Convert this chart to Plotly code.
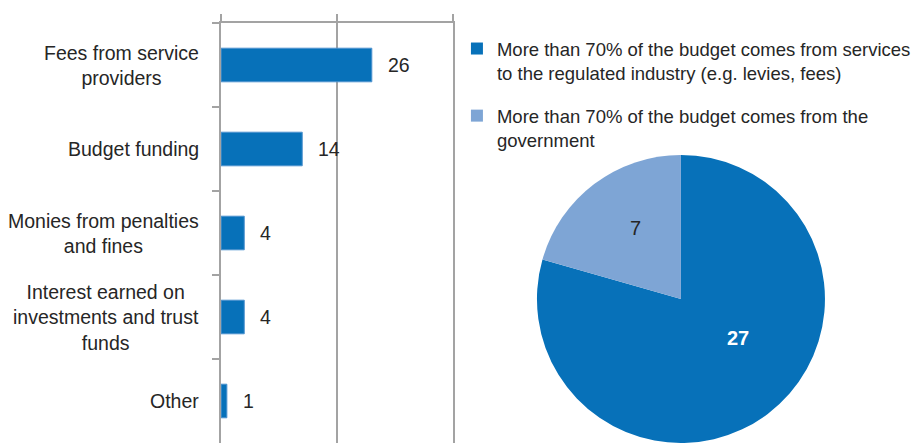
import math
import plotly.graph_objects as go

# Revenue sources (number of regulators)
categories = [
    "Fees from service<br>providers",
    "Budget funding",
    "Monies from penalties<br>and fines",
    "Interest earned on<br>investments and trust<br>funds",
    "Other",
]
bar_values = [26, 14, 4, 4, 1]

# Budget composition split
pie_labels = [
    "More than 70% of the budget comes from services<br>to the regulated industry (e.g. levies, fees)",
    "More than 70% of the budget comes from the<br>government",
]
pie_values = [27, 7]

DARK = "#0771B9"
LIGHT = "#7EA5D5"
TEXT = "#262626"
AXIS = "#A3A3A3"
FONT = "Liberation Sans, Arial, sans-serif"

W, H = 916, 443

# pie geometry (pixels)
PIE_CX = 690
PIE_R = 144
pie_dom_x = [(PIE_CX - 150) / W, (PIE_CX + 150) / W]
pie_dom_y = [0, 2 * PIE_R / H]
PIE_CY_PAPER = PIE_R / H

# value labels inside slices: (angle clockwise from 12 o'clock, radius fraction)
slice_label_pos = [(124, 0.48), (-33, 0.59)]
slice_label_style = [dict(color="white", bold=True), dict(color=TEXT, bold=False)]

fig = go.Figure()

fig.add_trace(go.Bar(
    y=categories,
    x=bar_values,
    orientation="h",
    width=0.4,
    marker=dict(color=DARK, line=dict(color="#4F93CF", width=1)),
    showlegend=False,
    hoverinfo="skip",
))

fig.add_trace(go.Pie(
    labels=pie_labels,
    values=pie_values,
    textinfo="none",
    marker=dict(colors=[DARK, LIGHT], line=dict(width=0)),
    sort=False,
    direction="clockwise",
    rotation=0,
    domain=dict(x=pie_dom_x, y=pie_dom_y),
    showlegend=False,
    hoverinfo="skip",
))

# legend entries for the pie slices, one group each so they can be spaced apart
for i, (lab, col) in enumerate(zip(pie_labels, [DARK, LIGHT])):
    fig.add_trace(go.Scatter(
        x=[None], y=[None],
        mode="markers",
        marker=dict(symbol="square", size=12, color=col, line=dict(width=0)),
        name=lab,
        legendgroup=f"slice{i}",
        showlegend=True,
        hoverinfo="skip",
    ))

annotations = []
# Category labels: right-aligned block, lines centred within it
for cat in categories:
    annotations.append(dict(
        x=0, y=cat, xref="x", yref="y",
        text=cat, showarrow=False,
        xanchor="right", yanchor="middle", align="center",
        xshift=-20,
        font=dict(family=FONT, size=19.5, color=TEXT),
    ))
# Value labels next to each bar
for cat, v in zip(categories, bar_values):
    annotations.append(dict(
        x=v, y=cat, xref="x", yref="y",
        text=str(v), showarrow=False,
        xanchor="left", yanchor="middle",
        xshift=14,
        font=dict(family=FONT, size=19.5, color=TEXT),
    ))
# Slice values
for v, (ang, rf), st in zip(pie_values, slice_label_pos, slice_label_style):
    a = math.radians(ang)
    txt = f"<b>{v}</b>" if st["bold"] else str(v)
    annotations.append(dict(
        x=PIE_CX / W + rf * PIE_R * math.sin(a) / W,
        y=PIE_CY_PAPER + rf * PIE_R * math.cos(a) / H,
        xref="paper", yref="paper",
        text=txt, showarrow=False,
        xanchor="center", yanchor="middle",
        font=dict(family=FONT, size=20, color=st["color"]),
    ))

fig.update_layout(
    width=W,
    height=H,
    margin=dict(l=0, r=0, t=0, b=0),
    paper_bgcolor="white",
    plot_bgcolor="white",
    font=dict(family=FONT, color=TEXT),
    xaxis=dict(
        domain=[224 / W, 459 / W],
        range=[0, 40],
        side="top",
        tickvals=[0, 20, 40],
        showticklabels=False,
        ticks="outside",
        ticklen=7,
        tickcolor=AXIS,
        tickwidth=1.5,
        showline=True,
        linecolor=AXIS,
        linewidth=1.5,
        showgrid=True,
        gridcolor=AXIS,
        gridwidth=1.5,
        zeroline=False,
        fixedrange=True,
    ),
    yaxis=dict(
        domain=[0, (H - 23) / H],
        autorange="reversed",
        showticklabels=False,
        ticks="outside",
        tickson="boundaries",
        ticklen=7,
        tickcolor=AXIS,
        tickwidth=1.5,
        showline=True,
        mirror=True,
        linecolor=AXIS,
        linewidth=1.5,
        showgrid=False,
        fixedrange=True,
    ),
    legend=dict(
        x=463 / W,
        y=1 - 30 / H,
        xanchor="left",
        yanchor="top",
        valign="top",
        tracegroupgap=16,
        font=dict(family=FONT, size=18.5, color=TEXT),
        bgcolor="rgba(0,0,0,0)",
        itemclick=False,
        itemdoubleclick=False,
    ),
    annotations=annotations,
)

fig.write_html("out.html")
